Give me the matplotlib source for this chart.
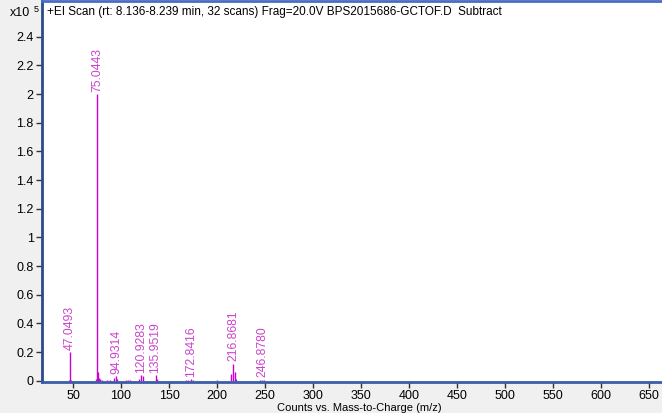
import matplotlib
matplotlib.use("Agg")
import matplotlib.pyplot as plt

plt.rcParams["font.family"] = ["Liberation Sans", "DejaVu Sans"]

# spectrum peaks (m/z, counts in units of 1e5)
mz = [46.0, 47.0493, 48.0, 74.0, 75.0443, 76.0, 77.0, 78.0, 80.0, 85.0, 89.0,
      93.0, 94.9314, 96.0, 105.0, 107.0, 109.0, 119.0, 120.9283, 123.0,
      135.9519, 137.0, 168.0, 170.0, 172.8416, 175.0, 200.0,
      214.9, 216.8681, 218.9, 220.0, 244.9, 246.8780, 248.9]
counts = [0.005, 0.20, 0.008, 0.01, 2.00, 0.06, 0.02, 0.01, 0.005, 0.005, 0.003,
          0.02, 0.03, 0.01, 0.004, 0.005, 0.004, 0.01, 0.04, 0.03,
          0.04, 0.01, 0.005, 0.006, 0.01, 0.004, 0.003,
          0.05, 0.12, 0.06, 0.01, 0.005, 0.008, 0.004]
labelled = ["47.0493", "75.0443", "94.9314", "120.9283", "135.9519",
            "172.8416", "216.8681", "246.8780"]

title = "+EI Scan (rt: 8.136-8.239 min, 32 scans) Frag=20.0V BPS2015686-GCTOF.D  Subtract"
yticks = [0, 0.2, 0.4, 0.6, 0.8, 1, 1.2, 1.4, 1.6, 1.8, 2, 2.2, 2.4]
xticks = list(range(50, 651, 50))

W, H = 662, 413
fig = plt.figure(figsize=(W / 100, H / 100), dpi=100, facecolor="#f0f0f0")
ax = fig.add_axes([42 / W, (H - 382) / H, (676 - 42) / W, (382 - 1) / H])
ax.set_facecolor("white")

ax.vlines(mz, 0, counts, color="#cc00cc", linewidth=1.0)
for m, c in zip(mz, counts):
    lab = "%.4f" % m
    if lab in labelled:
        ax.annotate(lab, (m, c), xytext=(0, 1.5), textcoords="offset points",
                    rotation=90, ha="center", va="bottom", fontsize=8.8,
                    color="#cc44cc")

ax.set_xlim(17.7, 678)
ax.set_ylim(-0.009, 2.65)
ax.set_xticks(xticks)
ax.set_yticks(yticks)
ax.set_yticklabels(["%g" % v for v in yticks])
ax.tick_params(direction="out", length=4, width=1, labelsize=9, pad=2,
               color="#333333")
ax.tick_params(axis="x", pad=1.5)

for s in ["left", "bottom", "top"]:
    ax.spines[s].set_linewidth(2)
ax.spines["left"].set_color("#2b4a8a")
ax.spines["bottom"].set_color("#3a5da8")
ax.spines["top"].set_color("#4a6cc4")
ax.spines["right"].set_visible(False)

ax.text(0.008, 0.987, title, transform=ax.transAxes, ha="left", va="top",
        fontsize=8.5, color="black")
fig.text(10 / W, 1 - 13 / H, "x10", ha="left", va="center", fontsize=9)
fig.text(34 / W, 1 - 10 / H, "5", ha="left", va="center", fontsize=6.5)
fig.text(359 / W, 1 - 408 / H, "Counts vs. Mass-to-Charge (m/z)", ha="center",
         va="center", fontsize=8)

fig.savefig("out.png", dpi=100, facecolor=fig.get_facecolor())
